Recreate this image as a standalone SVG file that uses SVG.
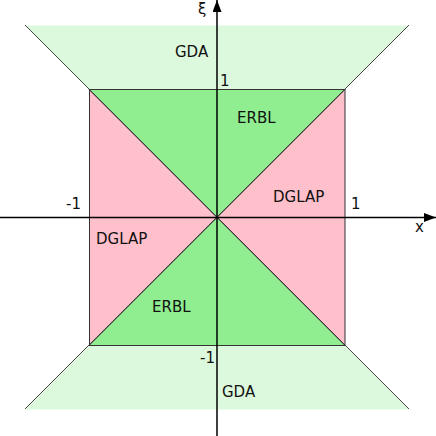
<svg xmlns="http://www.w3.org/2000/svg" width="436" height="436" viewBox="0 0 436 436">
<defs>
<style>
.t{font-family:"DejaVu Sans",sans-serif;font-size:15px;fill:#111}
.gda{fill:#ddf9dd}
.erbl{fill:#90ee90}
.dglap{fill:#ffc0cb}
.edge{stroke:#333;stroke-width:1;fill:none}
.thin{stroke:#333;stroke-width:0.9;fill:none}
.axis{stroke:#000;stroke-width:1.5;fill:none}
</style>
<marker id="arr" viewBox="0 0 12 9" refX="12" refY="4.5" markerWidth="12" markerHeight="9" markerUnits="userSpaceOnUse" orient="auto">
<path d="M0,0 L12,4.5 L0,9 Z" fill="#000"/>
</marker>
</defs>
<rect width="436" height="436" fill="#fff"/>
<g id="gda-top">
<polygon class="gda" points="25,25.5 409,25.5 345,89.5 89,89.5"/>
<text class="t" x="175" y="57">GDA</text>
</g>
<g id="gda-bottom">
<polygon class="gda" points="89,345.5 345,345.5 409,409.5 25,409.5"/>
<text class="t" x="222" y="397">GDA</text>
</g>
<g id="erbl-top">
<polygon class="erbl" points="89,89.5 345,89.5 217,217.5"/>
<text class="t" x="237" y="123">ERBL</text>
</g>
<g id="erbl-bottom">
<polygon class="erbl" points="89,345.5 345,345.5 217,217.5"/>
<text class="t" x="152" y="312">ERBL</text>
</g>
<g id="dglap-right">
<polygon class="dglap" points="345,89.5 345,345.5 217,217.5"/>
<text class="t" x="273" y="202">DGLAP</text>
</g>
<g id="dglap-left">
<polygon class="dglap" points="89,89.5 89,345.5 217,217.5"/>
<text class="t" x="96" y="244">DGLAP</text>
</g>
<g id="connectors">
<rect class="edge" x="89.5" y="89.5" width="255.5" height="256"/>
<line class="thin" x1="25" y1="25" x2="409" y2="409"/>
<line class="thin" x1="409" y1="25" x2="25" y2="409"/>
<line class="edge" x1="89" y1="89.5" x2="345" y2="345.5"/>
<line class="edge" x1="345" y1="89.5" x2="89" y2="345.5"/>
<line class="axis" x1="0" y1="217.5" x2="436" y2="217.5" marker-end="url(#arr)"/>
<line class="axis" x1="217" y1="436" x2="217" y2="0" marker-end="url(#arr)"/>
</g>
<g id="labels">
<text class="t" x="198" y="14">ξ</text>
<text class="t" x="220" y="86">1</text>
<text class="t" x="66" y="209">-1</text>
<text class="t" x="351" y="209">1</text>
<text class="t" x="415" y="232">x</text>
<text class="t" x="200" y="363">-1</text>
</g>
</svg>
